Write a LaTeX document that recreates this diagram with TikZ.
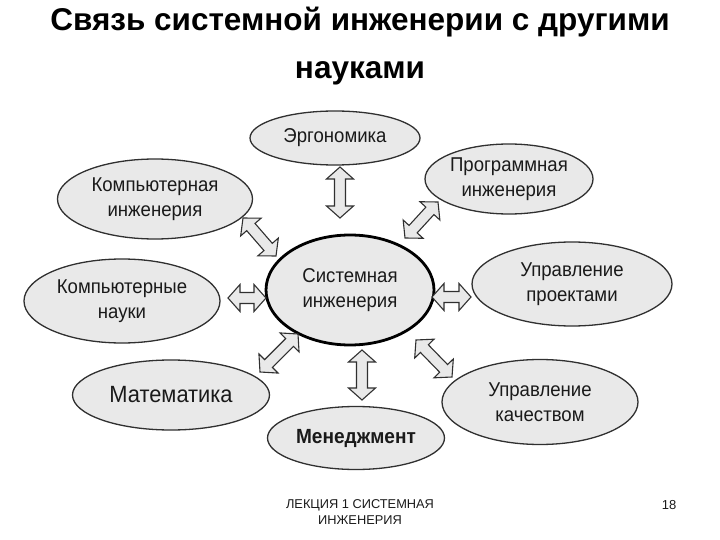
\documentclass[tikz,border=0pt]{standalone}
\usepackage{fontspec}
\setmainfont{Liberation Sans}
\newfontfamily\narrowsans[FakeStretch=0.93]{Liberation Sans}
\usetikzlibrary{shapes.geometric,calc}
\definecolor{ellfill}{HTML}{E9E9E9}
\definecolor{ellline}{HTML}{303030}
\definecolor{txt}{HTML}{1A1A1A}
\tikzset{
  ell/.style={ellipse, draw=ellline, fill=ellfill, line width=1.3pt, inner sep=0pt, align=center, text=txt, font=\narrowsans\fontsize{20}{25.5}\selectfont},
  blockarrow/.style={draw=ellline, fill=ellfill, line width=1.1pt, line join=miter}
}
\begin{document}
\begin{tikzpicture}[x=1pt,y=-1pt]
\useasboundingbox (0,0) rectangle (720,540);
% title
\node[font=\fontsize{31.5}{48}\selectfont\bfseries, align=center, text=black] (title) at (360,46) {Связь системной инженерии с другими\\науками};
% ellipses
\node[ell, minimum width=170pt, minimum height=54pt] (ergo) at (335,138) {Эргономика};
\node[ell, minimum width=168pt, minimum height=70pt] (prog) at (509,179) {Программная\\инженерия};
\node[ell, minimum width=195pt, minimum height=80pt] (ceng) at (155,199) {Компьютерная\\инженерия};
\node[ell, minimum width=168pt, minimum height=110pt, line width=2.8pt, draw=black] (sys) at (350,290) {Системная\\инженерия};
\node[ell, minimum width=200pt, minimum height=84pt] (pm) at (572,284) {Управление\\проектами};
\node[ell, minimum width=196pt, minimum height=84pt] (cs) at (122,301) {Компьютерные\\науки};
\node[ell, minimum width=197pt, minimum height=70pt, font=\narrowsans\fontsize{23.5}{28}\selectfont] (math) at (171,395) {Математика};
\node[ell, minimum width=196pt, minimum height=85pt] (qm) at (540,402) {Управление\\качеством};
\node[ell, minimum width=177pt, minimum height=63pt, font=\narrowsans\fontsize{20.5}{24}\selectfont\bfseries] (mgmt) at (356,438) {Менеджмент};
% arrow end points
\coordinate (a1s) at (340,167); \coordinate (a1e) at (340,218);
\coordinate (a2s) at (405,238); \coordinate (a2e) at (438,202);
\coordinate (a3s) at (243,218); \coordinate (a3e) at (276,256);
\coordinate (a4s) at (228,298); \coordinate (a4e) at (266,298);
\coordinate (a5s) at (432,297); \coordinate (a5e) at (471,297);
\coordinate (a6s) at (260,372); \coordinate (a6e) at (298,334);
\coordinate (a7s) at (362,350); \coordinate (a7e) at (362,400);
\coordinate (a8s) at (416,340); \coordinate (a8e) at (452,377);
\foreach \s/\e in {a1s/a1e,a2s/a2e,a3s/a3e,a4s/a4e,a5s/a5e,a6s/a6e,a7s/a7e,a8s/a8e}{
  \coordinate (B1) at ($(\s)!12pt!(\e)$);
  \coordinate (B2) at ($(\e)!12pt!(\s)$);
  \draw[blockarrow] (\s) -- ($(B1)!13.5pt!90:(\e)$) -- ($(B1)!5.5pt!90:(\e)$)
    -- ($(B2)!5.5pt!-90:(\s)$) -- ($(B2)!13.5pt!-90:(\s)$) -- (\e)
    -- ($(B2)!13.5pt!90:(\s)$) -- ($(B2)!5.5pt!90:(\s)$)
    -- ($(B1)!5.5pt!-90:(\e)$) -- ($(B1)!13.5pt!-90:(\e)$) -- cycle;
}
% footer
\node[font=\fontsize{12.8}{16}\selectfont, align=center, text=txt] (foot) at (360,512) {ЛЕКЦИЯ 1 СИСТЕМНАЯ\\ИНЖЕНЕРИЯ};
\node[font=\fontsize{13}{16}\selectfont, text=txt] (page) at (669,505) {18};
\end{tikzpicture}
\end{document}
